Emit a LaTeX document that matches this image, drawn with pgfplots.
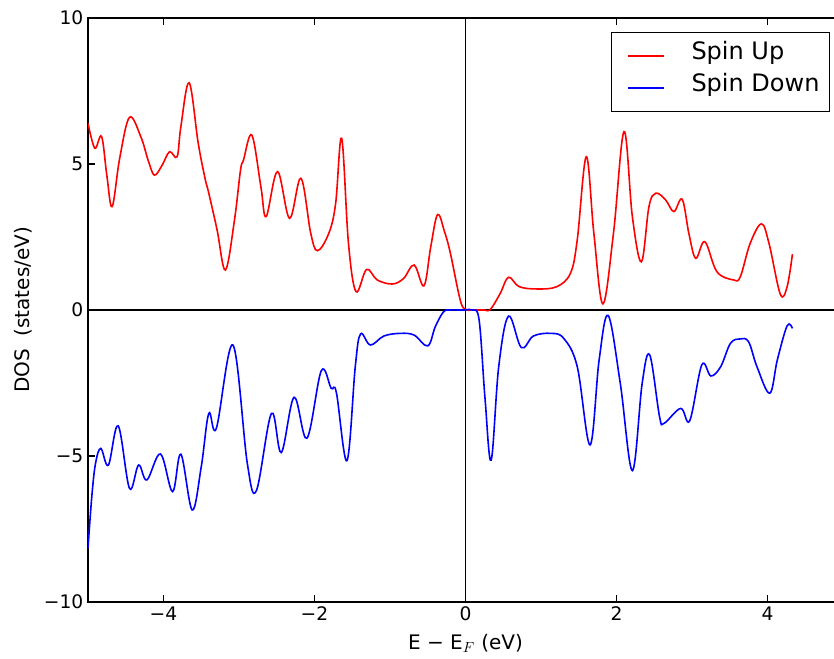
\documentclass[border=0pt]{standalone}
\usepackage{pgfplots}
\pgfplotsset{compat=1.18}
\usepackage{fontspec}
\setmainfont{DejaVu Sans}
\begin{document}
\begin{tikzpicture}
\begin{axis}[
 scale only axis, width=566.25pt, height=438pt,
 xmin=-5, xmax=5, ymin=-10, ymax=10,
 xtick={-4,-2,0,2,4}, xticklabels={−4,−2,0,2,4},
 ytick={-10,-5,0,5,10}, yticklabels={−10,−5,0,5,10},
 tick align=inside, major tick length=5pt,
 tick style={black, line width=0.8pt},
 axis line style={black, line width=1pt},
 ticklabel style={font=\fontsize{14}{16}\selectfont},
 xlabel={E − E$_{F}$ (eV)}, ylabel={DOS\ \ (states/eV)},
 every axis x label/.style={at={(rel axis cs:0.5,-0.0805)}, anchor=base, font=\fontsize{15}{18}\selectfont},
 every axis y label/.style={at={(rel axis cs:-0.0861,0.5)}, rotate=90, anchor=center, font=\fontsize{15}{18}\selectfont},
 legend style={at={(rel axis cs:0.9828,0.976)}, anchor=north east, draw=black, line width=0.8pt,
   font=\fontsize{18}{21}\selectfont, inner xsep=5.5pt, inner ysep=10.5pt, row sep=10pt,
   /tikz/every odd column/.append style={column sep=18pt},
   nodes={inner sep=2pt, text depth=0.25em, text height=0.75em}},
 legend cell align=left,
 legend image code/.code={\path (-6pt,0pt); \draw[#1] (0pt,0pt) -- (27pt,0pt);},
 clip=true,
]
\addplot[black, line width=1.1pt, forget plot] coordinates {(0,-10) (0,10)};
\addplot[black, line width=1.1pt, forget plot] coordinates {(-5,0) (5,0)};
\addplot[red, line width=1.2pt, smooth, tension=0.6] coordinates {
(-5.0,6.4) (-4.91,5.54) (-4.82,5.94) (-4.75,4.6) (-4.68,3.54) (-4.58,5.2) (-4.45,6.60) (-4.30,5.93) (-4.20,5.1) (-4.12,4.62) (-4.02,4.95) (-3.92,5.42) (-3.82,5.25) (-3.77,6.28) (-3.66,7.78) (-3.54,5.71) (-3.45,4.51) (-3.40,4.0) (-3.29,2.74) (-3.18,1.37) (-3.06,3.08) (-2.98,4.79) (-2.94,5.14) (-2.83,5.99) (-2.71,4.22) (-2.64,3.20) (-2.49,4.74) (-2.33,3.14) (-2.18,4.51) (-2.05,2.63) (-1.96,2.03) (-1.81,2.63) (-1.72,3.65) (-1.64,5.88) (-1.55,2.28) (-1.45,0.63) (-1.31,1.39) (-1.17,1.03) (-0.97,0.89) (-0.82,1.08) (-0.68,1.54) (-0.55,0.83) (-0.46,2.17) (-0.37,3.27) (-0.28,2.7) (-0.20,1.94) (-0.07,0.34) (0,0.02) (0.08,0) (0.16,0) (0.25,0) (0.33,0.02) (0.46,0.57) (0.57,1.12) (0.71,0.80) (0.95,0.72) (1.21,0.80) (1.39,1.26) (1.48,2.40) (1.60,5.25) (1.70,2.63) (1.82,0.21) (1.96,2.63) (2.10,6.11) (2.21,3.20) (2.33,1.65) (2.43,3.54) (2.52,4.0) (2.65,3.77) (2.76,3.37) (2.87,3.79) (2.96,2.6) (3.05,1.77) (3.17,2.34) (3.33,1.31) (3.55,1.03) (3.64,1.14) (3.77,2.28) (3.92,2.95) (4.02,2.28) (4.17,0.54) (4.26,0.80) (4.33,1.91)
};
\addlegendentry{Spin Up}
\addplot[blue, line width=1.2pt, smooth, tension=0.6] coordinates {
(-5.0,-8.16) (-4.95,-6.4) (-4.90,-5.25) (-4.83,-4.74) (-4.73,-5.31) (-4.60,-3.97) (-4.45,-6.11) (-4.33,-5.31) (-4.22,-5.82) (-4.04,-4.93) (-3.88,-6.22) (-3.77,-4.94) (-3.62,-6.85) (-3.50,-5.37) (-3.40,-3.54) (-3.30,-4.05) (-3.08,-1.20) (-2.89,-5.25) (-2.77,-6.19) (-2.57,-3.54) (-2.44,-4.88) (-2.27,-2.99) (-2.10,-4.39) (-1.91,-2.08) (-1.78,-2.68) (-1.71,-2.83) (-1.57,-5.16) (-1.46,-1.94) (-1.39,-0.82) (-1.26,-1.20) (-1.08,-0.89) (-0.86,-0.80) (-0.68,-0.86) (-0.50,-1.23) (-0.40,-0.57) (-0.29,-0.06) (-0.2,0) (-0.1,0) (0,0) (0.09,0) (0.18,-0.34) (0.26,-3.08) (0.34,-5.14) (0.44,-1.94) (0.57,-0.21) (0.74,-1.29) (0.90,-0.89) (1.13,-0.80) (1.30,-0.97) (1.48,-1.94) (1.65,-4.62) (1.77,-1.71) (1.89,-0.19) (2.05,-2.51) (2.21,-5.50) (2.34,-2.51) (2.44,-1.54) (2.57,-3.65) (2.63,-3.88) (2.85,-3.37) (2.97,-3.79) (3.13,-1.88) (3.25,-2.26) (3.38,-1.94) (3.51,-1.14) (3.64,-0.99) (3.75,-1.09) (3.86,-1.94) (4.03,-2.85) (4.13,-1.71) (4.26,-0.54) (4.33,-0.63)
};
\addlegendentry{Spin Down}
\coordinate (SW) at (rel axis cs:0,0);
\coordinate (NE) at (rel axis cs:1,1);
\end{axis}
\pgfresetboundingbox
\path[use as bounding box] ([xshift=-66pt,yshift=-42.75pt]SW) rectangle ([xshift=-6.75pt,yshift=13.5pt]NE);
\end{tikzpicture}
\end{document}
